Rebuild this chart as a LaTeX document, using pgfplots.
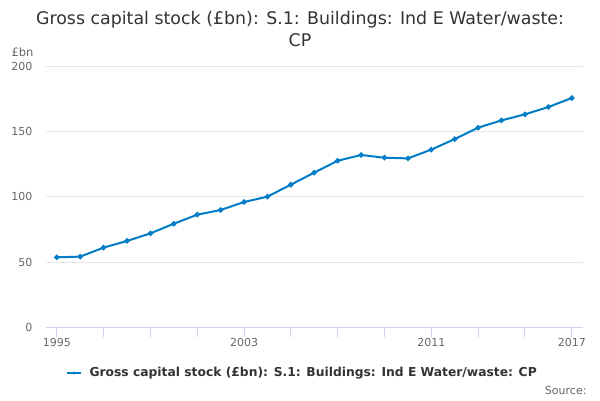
\documentclass[border=0pt]{standalone}
\usepackage{pgfplots}
\pgfplotsset{compat=1.18}
\usepackage{fontspec}
\setmainfont{DejaVu Sans}
\definecolor{lineblue}{RGB}{0,125,198}
\definecolor{gridgray}{RGB}{230,230,230}
\definecolor{axisblue}{RGB}{204,214,235}
\definecolor{labelgray}{RGB}{102,102,102}
\definecolor{titlegray}{RGB}{51,51,51}
\pgfplotstableread{
year value
1995 53.6
1996 54.1
1997 61.0
1998 66.1
1999 71.9
2000 79.3
2001 86.2
2002 89.8
2003 95.9
2004 100.0
2005 109.2
2006 118.4
2007 127.5
2008 131.9
2009 129.8
2010 129.3
2011 136.0
2012 144.1
2013 152.8
2014 158.4
2015 163.0
2016 168.6
2017 175.5
}\datatable
\begin{document}
\begin{tikzpicture}[x=1pt,y=1pt]
\path[use as bounding box] (0,0) rectangle (600,400);
\node[font=\fontsize{17.4}{22}\selectfont, text=titlegray, align=center, anchor=center] at (300,371) {Gross capital stock (£bn): S.1: Buildings: Ind E Water/waste:\\CP};
\node[font=\fontsize{11.5}{13}\selectfont, text=labelgray, anchor=center] at (22.5,347.5) {£bn};
\begin{axis}[
  at={(46pt,72.67pt)}, anchor=south west,
  width=537pt, height=261.33pt, scale only axis,
  xmin=1994.54, xmax=2017.48, ymin=0, ymax=200,
  axis line style={draw=none},
  axis x line*=bottom,
  separate axis lines,
  x axis line style={draw=axisblue, line width=1pt},
  y axis line style={draw=none},
  xtick={1995,1997,...,2017},
  xticklabels={1995,,,,2003,,,,2011,,,2017},
  ytick={0,50,100,150,200},
  ymajorgrids, grid style={gridgray, line width=0.8pt},
  xtick pos=bottom, tick align=outside,
  major tick length=10pt,
  xtick style={draw=axisblue, line width=1pt},
  ytick style={draw=none},
  ytick pos=left,
  tick label style={font=\fontsize{11}{13}\selectfont, text=labelgray},
  xticklabel style={yshift=3pt},
  yticklabel style={xshift=0pt},
  /pgf/number format/assume math mode=true,
  /pgf/number format/1000 sep={},
  clip=false,
]
\addplot[lineblue, line width=2pt, mark=*, mark size=1.6pt, mark options={fill=lineblue, draw=lineblue}] table[x=year,y=value] {\datatable};
\end{axis}
\draw[lineblue, line width=2pt] (67,27) -- (81,27);
\fill[lineblue] (74,27) circle (1.6);
\node[font=\bfseries\fontsize{12.3}{14}\selectfont, text=titlegray, anchor=west] at (86,27) {Gross capital stock (£bn): S.1: Buildings: Ind E Water/waste: CP};
\node[font=\fontsize{11}{13}\selectfont, text=labelgray, anchor=east] at (590,10) {Source:};
\end{tikzpicture}
\end{document}
